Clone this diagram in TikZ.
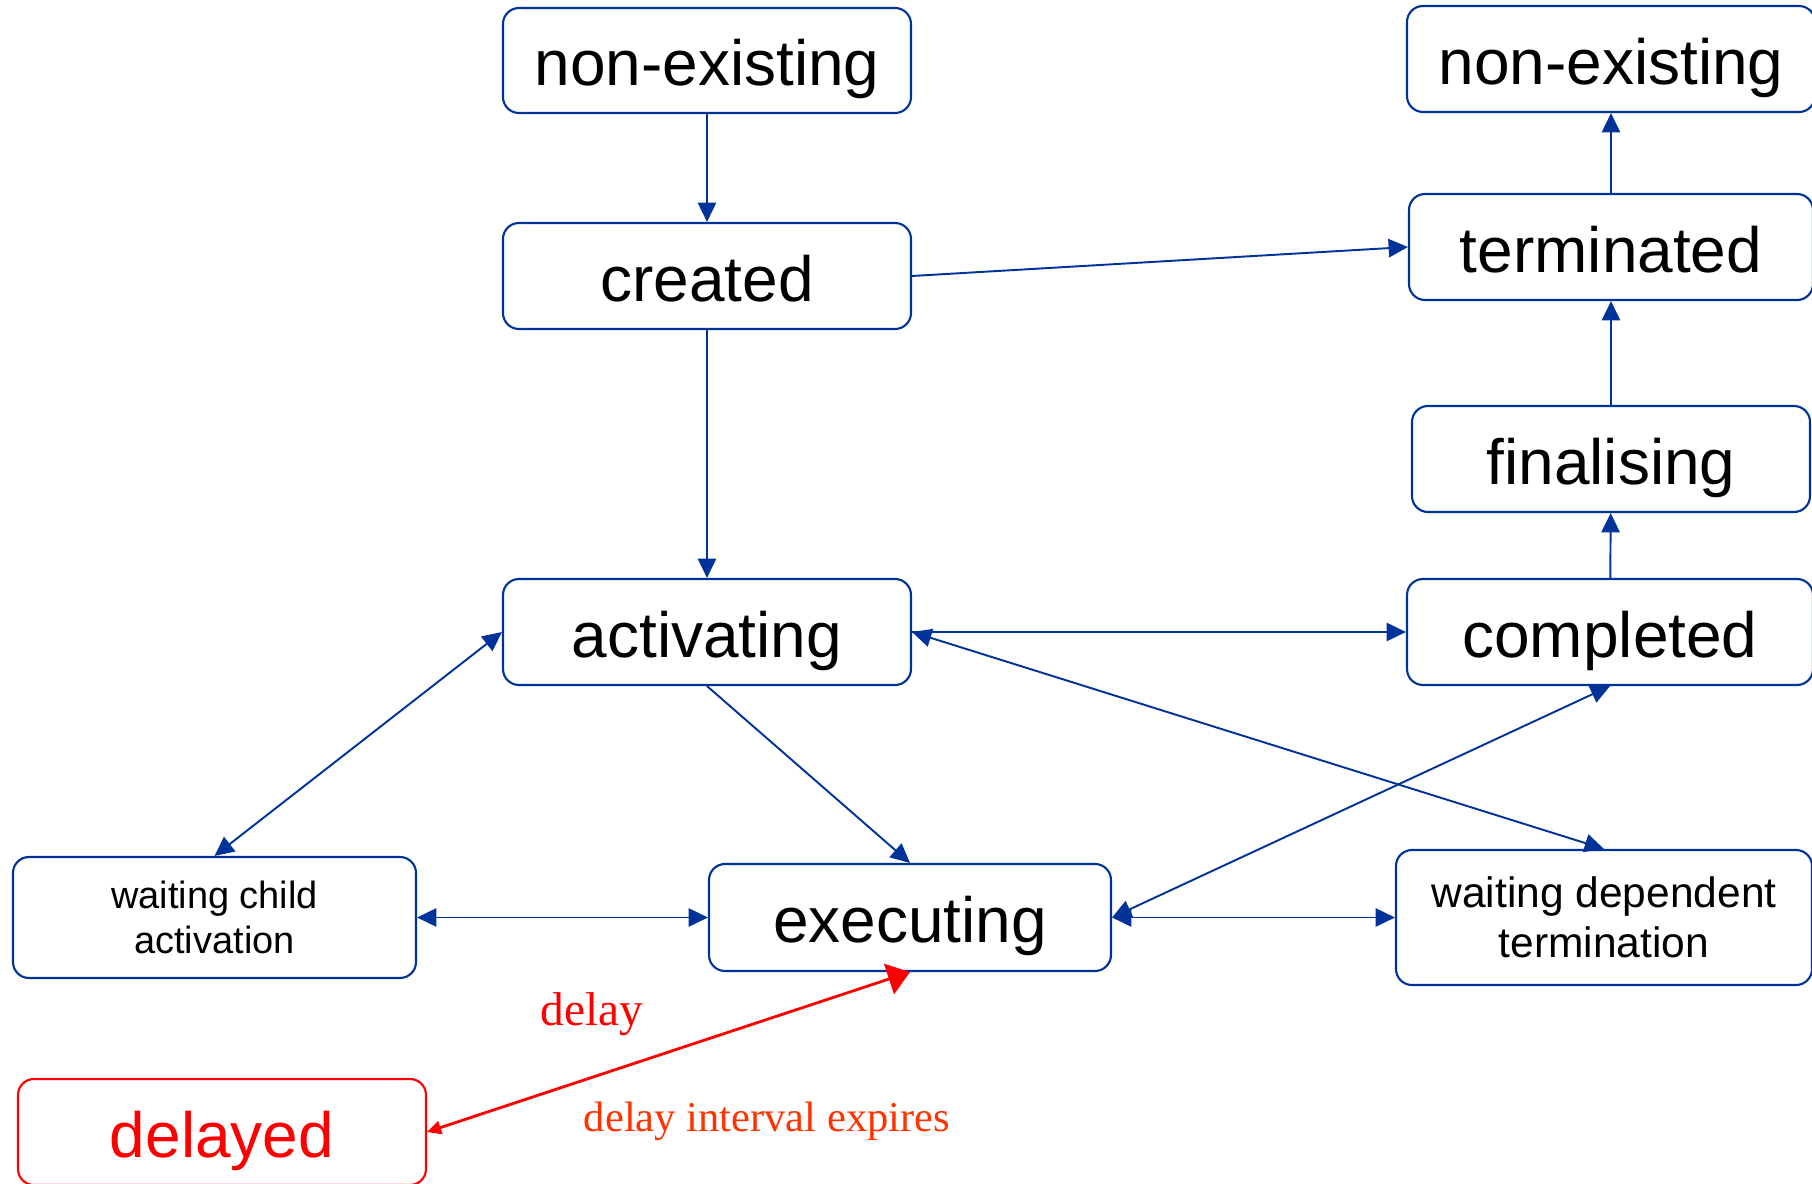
\documentclass[tikz,border=0pt]{standalone}
\usepackage{fontspec}
\setmainfont{Liberation Serif}
\setsansfont{Liberation Sans}
\usepackage{tikz}
\usetikzlibrary{arrows.meta,positioning,shapes}
\definecolor{lineblue}{RGB}{0,51,153}
\definecolor{delayred}{RGB}{255,0,0}
\definecolor{expirered}{RGB}{255,51,0}
\tikzset{%
	basebox/.style    = {draw=lineblue, line width=0.6pt, rectangle, rounded corners=0.16cm, minimum width=4.08cm, minimum height=1.06cm, inner sep=0pt, text centered},
	statebox/.style   = {basebox, text height=14.5pt, text depth=0pt, font=\sffamily\fontsize{18.2}{21}\selectfont},
	smallbox/.style   = {basebox, align=center, font=\sffamily\fontsize{10.8}{12.8}\selectfont},
	delaybox/.style   = {statebox, draw=delayred, text=delayred},
	arrow/.style      = {lineblue, line width=0.55pt, -{Triangle[length=5.5pt,width=5.2pt]}},
	twoway/.style     = {arrow, {Triangle[length=5.5pt,width=5.2pt]}-{Triangle[length=5.5pt,width=5.2pt]}},
	delayarrow/.style = {delayred, line width=0.8pt, {Triangle[length=4pt,width=3.8pt]}-{Triangle[length=6.3pt,width=9pt]}},
}
\begin{document}
\begin{tikzpicture}
	\useasboundingbox (0,0) rectangle (18.12,-11.84);
	% left column
	\node[statebox, minimum height=1.05cm] (nonexA) at (7.07,-0.605) {non-existing};
	\node[statebox] (created) at (7.07,-2.76) {created};
	\node[statebox] (activating) at (7.07,-6.32) {activating};
	% right column
	\node[statebox] (nonexB) at (16.11,-0.59) {non-existing};
	\node[statebox, minimum width=4.04cm] (terminated) at (16.11,-2.47) {terminated};
	\node[statebox, minimum width=3.98cm] (finalising) at (16.11,-4.59) {finalising};
	\node[statebox, minimum width=4.06cm] (completed) at (16.10,-6.32) {completed};
	% bottom row
	\node[smallbox, minimum width=4.03cm, minimum height=1.21cm] (waitchild) at (2.145,-9.175) {waiting child\\activation};
	\node[statebox, minimum width=4.02cm, minimum height=1.07cm] (executing) at (9.10,-9.175) {executing};
	\node[smallbox, minimum width=4.16cm, minimum height=1.35cm, font=\sffamily\fontsize{12.1}{14.2}\selectfont] (waitdep) at (16.04,-9.175) {waiting dependent\\termination};
	\node[delaybox] (delayed) at (2.22,-11.32) {delayed};

	\draw[arrow] (nonexA) -- (created);
	\draw[arrow] (created.east) -- (terminated.west);
	\draw[arrow] (created.south) -- (activating.north);
	\draw[arrow] (terminated) -- (nonexB);
	\draw[arrow] (finalising) -- (terminated);
	\draw[arrow] (completed) -- (finalising);
	\draw[arrow] (activating.east) -- (completed.west);
	\draw[twoway] (activating.east) -- (waitdep.north);
	\draw[twoway] (activating.west) -- (waitchild.north);
	\draw[arrow] (activating.south) -- (executing.north);
	\draw[twoway] (waitchild) -- (executing);
	\draw[twoway] (executing) -- (waitdep);
	\draw[twoway] (executing.east) -- (completed.south);
	% delay transitions
	\draw[delayarrow] (delayed.east) -- (executing.south);
	\node[text=delayred, font=\fontsize{13.5}{16}\selectfont] (delaylabel) at (5.92,-10.14) {delay};
	\node[text=expirered, font=\fontsize{12.1}{14}\selectfont] (expirelabel) at (7.67,-11.21) {delay interval expires};
\end{tikzpicture}
\end{document}
